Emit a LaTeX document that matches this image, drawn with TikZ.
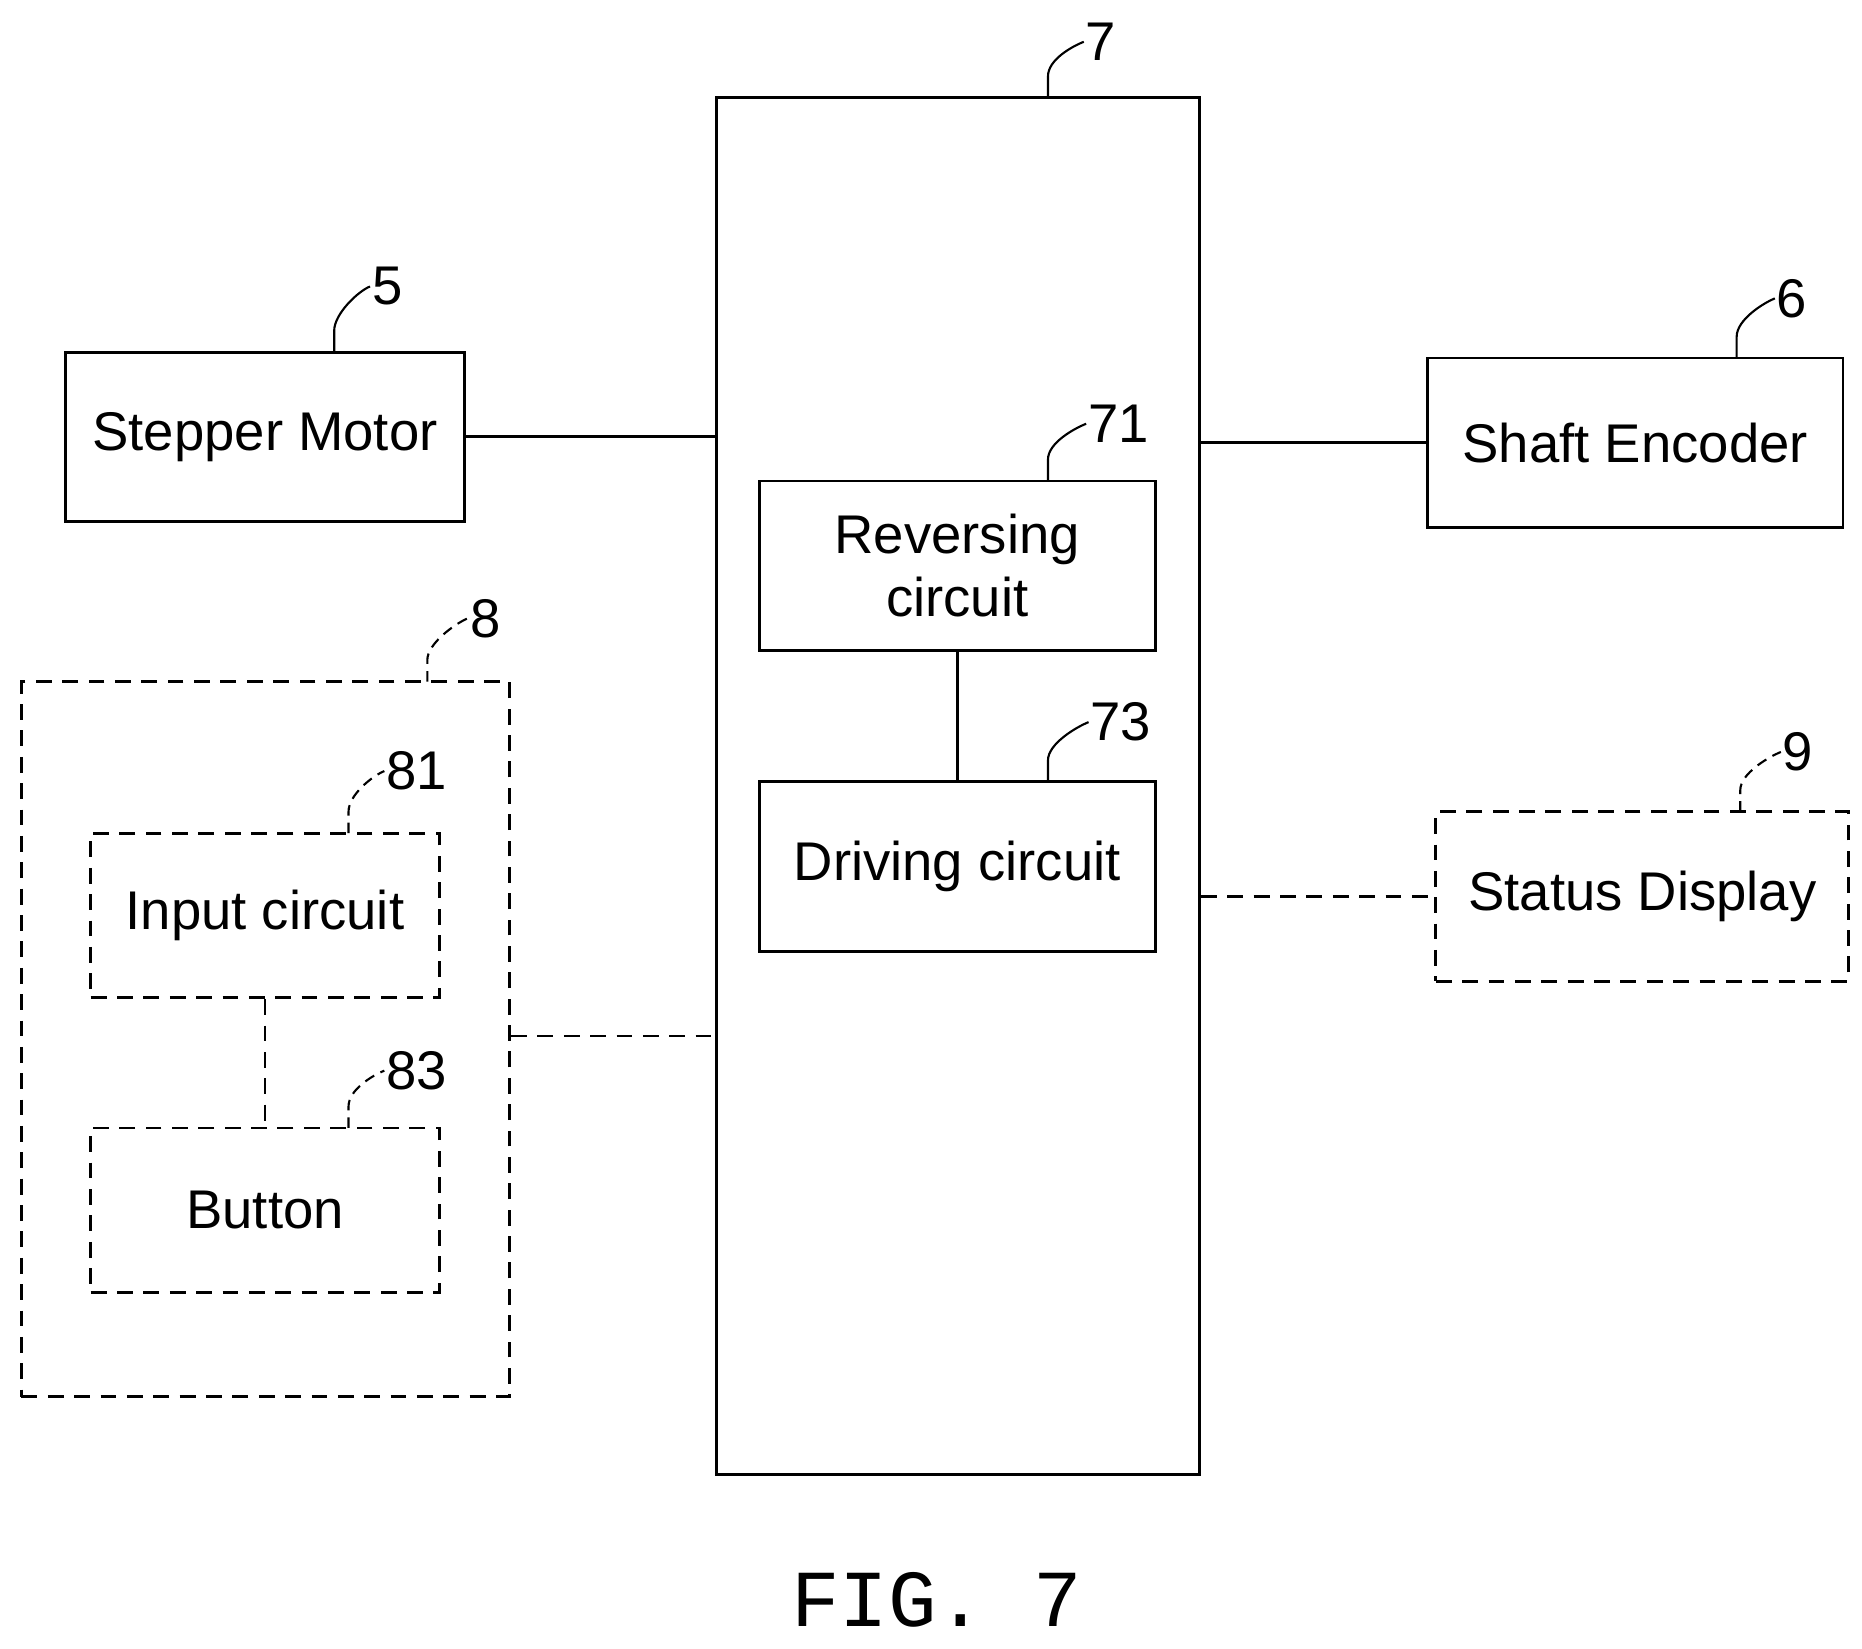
\documentclass[tikz,border=0pt]{standalone}
\usepackage{fontspec}
\setmainfont{Liberation Sans}
\newfontfamily\figmono{Liberation Mono}
\begin{document}
\begin{tikzpicture}[x=0.02387cm,y=-0.02387cm,
  blk/.style={draw,line width=1.6pt,inner sep=0pt,font=\fontsize{31}{36}\selectfont,align=center},
  dblk/.style={blk,dash pattern=on 9pt off 6pt},
  conn/.style={line width=1.6pt},
  dconn/.style={line width=1.6pt,dash pattern=on 9pt off 6pt},
  num/.style={font=\fontsize{31}{34}\selectfont,inner sep=1pt,anchor=west},
  lead/.style={line width=1.2pt}]
\useasboundingbox (0,0) rectangle (1560,1381.5);
\newcommand{\bx}[5]{\node[#1,minimum width={(#4-#2)*0.02387cm},minimum height={(#5-#3)*0.02387cm}] at ({(#2+#4)/2},{(#3+#5)/2})}
\bx{blk}{600}{82}{1005}{1235} (m) {};
\bx{blk}{55}{295}{389}{437} (sm) {Stepper Motor};
\bx{blk}{1196}{300}{1544}{442} (se) {Shaft Encoder};
\bx{blk}{636}{403}{968}{545} (rc) {Reversing\\circuit};
\bx{blk}{636}{655}{968}{797} (dc) {Driving circuit};
\bx{dblk}{18}{571}{427}{1170} (g8) {};
\bx{dblk}{76}{698}{368}{836} (ic) {Input circuit};
\bx{dblk}{76}{945}{368}{1083} (bt) {Button};
\bx{dblk}{1203}{680}{1549}{822} (sd) {Status Display};
\draw[conn] (sm.east) -- (sm.east -| m.west);
\draw[conn] (m.east |- 0,371) -- (se.west |- 0,371);
\draw[conn] (rc.south -| 802,0) -- (dc.north -| 802,0);
\draw[dconn] (g8.east |- 0,868) -- (m.west |- 0,868);
\draw[dconn] (m.east |- 0,751) -- (sd.west |- 0,751);
\draw[dconn] (ic.south -| 222,0) -- (bt.north -| 222,0);
\node[num] (l7) at (908,35) {7};
\node[num] (l5) at (310,240) {5};
\node[num] (l6) at (1487,250) {6};
\node[num] (l71) at (910,355) {71};
\node[num] (l73) at (912,605) {73};
\node[num] (l8) at (392,518) {8};
\node[num] (l81) at (322,646) {81};
\node[num] (l83) at (322,897) {83};
\node[num] (l9) at (1492,630) {9};
\coordinate (c7) at (878,82); \coordinate (c5) at (280,295); \coordinate (c6) at (1455,300);
\coordinate (c71) at (878,403); \coordinate (c73) at (878,655); \coordinate (c9) at (1458,680);
\coordinate (c8) at (358,571); \coordinate (c81) at (292,698); \coordinate (c83) at (292,945);
\foreach \c/\l in {c7/l7,c5/l5,c6/l6,c71/l71,c73/l73}
  \draw[lead] (\c) -- ++(0,-18) .. controls ++(0,-14) and ++(-10,4) .. (\l.west);
\foreach \c/\l in {c9/l9,c8/l8,c81/l81,c83/l83}
  \draw[lead,dash pattern=on 6pt off 4pt] (\c) -- ++(0,-18) .. controls ++(0,-14) and ++(-10,4) .. (\l.west);
\node[font=\figmono\fontsize{46}{50}\selectfont] (fig) at (785,1340) {FIG. 7};
\end{tikzpicture}
\end{document}
